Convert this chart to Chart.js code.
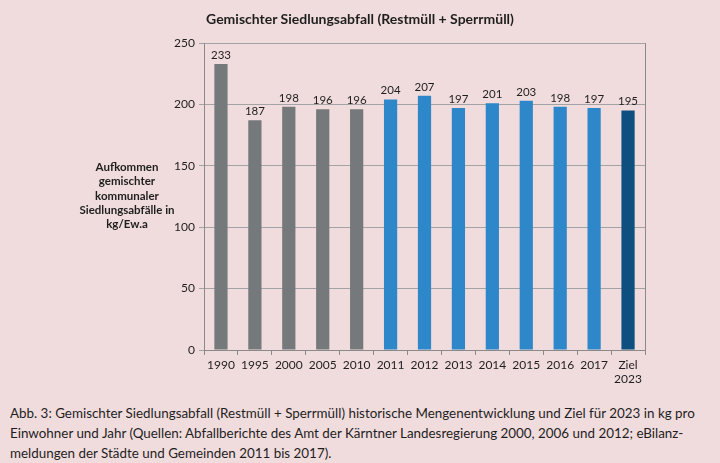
<!DOCTYPE html>
<html>
<head>
<meta charset="utf-8">
<script src="https://cdn.jsdelivr.net/npm/chart.js@4.4.0/dist/chart.umd.min.js"></script>
<style>
  html, body { margin: 0; padding: 0; }
  body { width: 720px; height: 463px; background: #f1dcdd; position: relative; overflow: hidden;
         font-family: Lato, sans-serif; color: #1e1e1e; }
  #wrap { position: absolute; left: 0; top: 0; width: 720px; height: 395px; }
  #title { position: absolute; left: 0; width: 720px; top: 10px; text-align: center; font-size: 14px; font-weight: bold; }
  #ylab { position: absolute; left: 67px; width: 120px; top: 160px; text-align: center;
          font-size: 11.5px; font-weight: bold; line-height: 14.3px; }
  #caption { position: absolute; left: 10px; top: 403px; width: 710px; font-size: 13.4px; line-height: 20px; white-space: nowrap; }
</style>
</head>
<body>
<div id="wrap"><canvas id="myChart"></canvas></div>
<div id="title">Gemischter Siedlungsabfall (Restmüll + Sperrmüll)</div>
<div id="ylab">Aufkommen<br>gemischter<br>kommunaler<br>Siedlungsabfälle in<br>kg/Ew.a</div>
<div id="caption">Abb. 3: Gemischter Siedlungsabfall (Restmüll + Sperrmüll) historische Mengenentwicklung und Ziel für 2023 in kg pro<br>Einwohner und Jahr (Quellen: Abfallberichte des Amt der Kärntner Landesregierung 2000, 2006 und 2012; eBilanz-<br>meldungen der Städte und Gemeinden 2011 bis 2017).</div>
<script>
// Siedlungsabfall kg/Ew.a
var xValues = ["1990", "1995", "2000", "2005", "2010", "2011", "2012", "2013", "2014", "2015", "2016", "2017", ["Ziel", "2023"]];
var yValues = [233, 187, 198, 196, 196, 204, 207, 197, 201, 203, 198, 197, 195];
var barColors = ["#76797c", "#76797c", "#76797c", "#76797c", "#76797c",
  "#2e87c9", "#2e87c9", "#2e87c9", "#2e87c9", "#2e87c9", "#2e87c9", "#2e87c9", "#0e4f80"];
var yTicks = [0, 50, 100, 150, 200, 250];

var fontName = 'Lato, sans-serif';

// value labels above bars
const valueLabels = {
  id: 'valueLabels',
  afterDatasetsDraw(chart) {
    const ctx = chart.ctx;
    const meta = chart.getDatasetMeta(0);
    ctx.save();
    ctx.font = '11.5px ' + fontName;
    ctx.fillStyle = '#1e1e1e';
    ctx.textAlign = 'center';
    ctx.textBaseline = 'bottom';
    meta.data.forEach(function (bar, i) {
      ctx.fillText(yValues[i], bar.x, bar.y - 3);
    });
    ctx.restore();
  }
};

new Chart("myChart", {
  type: "bar",
  data: {
    labels: xValues,
    datasets: [{
      backgroundColor: barColors,
      data: yValues,
      barPercentage: 0.39,
      categoryPercentage: 1
    }]
  },
  options: {
    responsive: true,
    maintainAspectRatio: false,
    animation: false,
    layout: {padding: {top: 43, right: 75, bottom: 0, left: 0}},
    plugins: {
      legend: {display: false},
      tooltip: {enabled: false}
    },
    scales: {
      x: {
        afterFit: function (s) { s.height = 45; },
        grid: {drawOnChartArea: false, offset: true, tickLength: 5, color: "#8a8a8a"},
        border: {color: "#8a8a8a"},
        ticks: {color: "#1e1e1e", font: {family: fontName, size: 12}, maxRotation: 0, padding: 3}
      },
      y: {
        min: 0,
        max: 250,
        afterFit: function (s) { s.width = 204; },
        afterBuildTicks: function (s) { s.ticks = yTicks.map(function (v) { return {value: v}; }); },
        grid: {color: "#a3a3a3", tickLength: 5},
        border: {color: "#8a8a8a"},
        ticks: {color: "#1e1e1e", font: {family: fontName, size: 12}, padding: 4}
      },
      y2: {
        position: "right",
        min: 0,
        max: 250,
        afterFit: function (s) { s.width = 0; },
        grid: {display: false},
        border: {color: "#8a8a8a"},
        ticks: {display: false}
      }
    }
  },
  plugins: [valueLabels]
});
</script>
</body>
</html>
